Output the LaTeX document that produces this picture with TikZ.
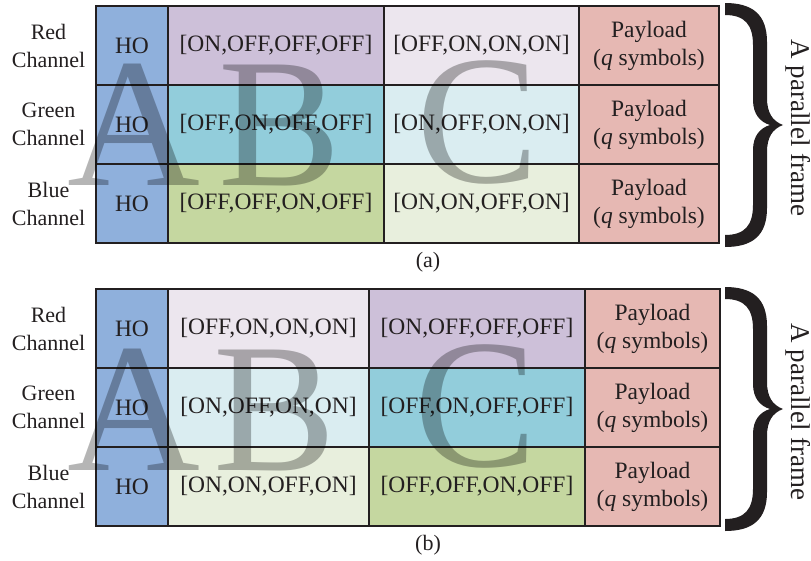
\documentclass[tikz,border=0pt]{standalone}
\usepackage{fontspec}
\setmainfont{Liberation Serif}
\definecolor{ink}{HTML}{231F20}
\definecolor{hoblue}{HTML}{8FB0DC}
\definecolor{purpD}{HTML}{CDC0D9}
\definecolor{purpL}{HTML}{ECE6EE}
\definecolor{tealD}{HTML}{92CDDB}
\definecolor{tealL}{HTML}{DAEDF1}
\definecolor{greenD}{HTML}{C5D7A0}
\definecolor{greenL}{HTML}{E8EFDD}
\definecolor{payred}{HTML}{E6B8B3}
\definecolor{ghost}{HTML}{B5B5B5}
\tikzset{
  cell/.style={draw=ink, line width=2.4pt, text=ink, inner sep=0pt,
    minimum height=79pt, font=\fontsize{23.5}{28}\selectfont, align=center},
  lbl/.style={text=ink, font=\fontsize{22}{28}\selectfont, align=center, inner sep=0pt},
  bigletter/.style={text=ghost, font=\fontsize{184}{184}\selectfont, inner sep=0pt, anchor=base},
  bracefill/.style={fill=ink, draw=none},
}
\newcommand{\payloadtext}{Payload\\(\textit{q} symbols)}
\begin{document}
\begin{tikzpicture}[x=1pt, y=-1pt]
\useasboundingbox (0,0) rectangle (811,560);

% ---------- frame (a) ----------
\node[cell, fill=hoblue, minimum width=72pt]  (aho1) at (132,45.5)  {HO};
\node[cell, fill=hoblue, minimum width=72pt]  (aho2) at (132,124.5) {HO};
\node[cell, fill=hoblue, minimum width=72pt]  (aho3) at (132,203.5) {HO};
\node[cell, fill=purpD,  minimum width=216pt] (ab1)  at (276,45.5)  {[ON,OFF,OFF,OFF]};
\node[cell, fill=tealD,  minimum width=216pt] (ab2)  at (276,124.5) {[OFF,ON,OFF,OFF]};
\node[cell, fill=greenD, minimum width=216pt] (ab3)  at (276,203.5) {[OFF,OFF,ON,OFF]};
\node[cell, fill=purpL,  minimum width=195pt] (ac1)  at (481.5,45.5)  {[OFF,ON,ON,ON]};
\node[cell, fill=tealL,  minimum width=195pt] (ac2)  at (481.5,124.5) {[ON,OFF,ON,ON]};
\node[cell, fill=greenL, minimum width=195pt] (ac3)  at (481.5,203.5) {[ON,ON,OFF,ON]};
\node[cell, fill=payred, minimum width=140pt] (ap1)  at (649,45.5)  {\payloadtext};
\node[cell, fill=payred, minimum width=140pt] (ap2)  at (649,124.5) {\payloadtext};
\node[cell, fill=payred, minimum width=140pt] (ap3)  at (649,203.5) {\payloadtext};

\node[lbl] (ar1) at (48.5,45.5)  {Red\\Channel};
\node[lbl] (ar2) at (48.5,124.5) {Green\\Channel};
\node[lbl] (ar3) at (48.5,203.5) {Blue\\Channel};
\node[lbl] (acap) at (428,262) {(a)};

% ---------- frame (b) ----------
\node[cell, fill=hoblue, minimum width=72pt]  (bho1) at (132,328.5) {HO};
\node[cell, fill=hoblue, minimum width=72pt]  (bho2) at (132,407.5) {HO};
\node[cell, fill=hoblue, minimum width=72pt]  (bho3) at (132,486.5) {HO};
\node[cell, fill=purpL,  minimum width=201pt] (bb1)  at (268.5,328.5) {[OFF,ON,ON,ON]};
\node[cell, fill=tealL,  minimum width=201pt] (bb2)  at (268.5,407.5) {[ON,OFF,ON,ON]};
\node[cell, fill=greenL, minimum width=201pt] (bb3)  at (268.5,486.5) {[ON,ON,OFF,ON]};
\node[cell, fill=purpD,  minimum width=216pt] (bc1)  at (477,328.5) {[ON,OFF,OFF,OFF]};
\node[cell, fill=tealD,  minimum width=216pt] (bc2)  at (477,407.5) {[OFF,ON,OFF,OFF]};
\node[cell, fill=greenD, minimum width=216pt] (bc3)  at (477,486.5) {[OFF,OFF,ON,OFF]};
\node[cell, fill=payred, minimum width=135pt] (bp1)  at (652.5,328.5) {\payloadtext};
\node[cell, fill=payred, minimum width=135pt] (bp2)  at (652.5,407.5) {\payloadtext};
\node[cell, fill=payred, minimum width=135pt] (bp3)  at (652.5,486.5) {\payloadtext};

\node[lbl] (br1) at (48.5,328.5) {Red\\Channel};
\node[lbl] (br2) at (48.5,407.5) {Green\\Channel};
\node[lbl] (br3) at (48.5,486.5) {Blue\\Channel};
\node[lbl] (bcap) at (428,545) {(b)};

% ---------- braces and side labels ----------
\foreach \dy/\nm in {0/a, 284/b} {
  \begin{scope}[shift={(0,\dy)}]
    \fill[bracefill]
      (725,3) .. controls (752,3) and (767,14) .. (767,42)
      -- (767,98)
      .. controls (767,112) and (772,121) .. (783,125)
      .. controls (772,129) and (767,138) .. (767,152)
      -- (767,208)
      .. controls (767,236) and (752,247) .. (725,247)
      -- (725,235)
      .. controls (745,235) and (753,225) .. (753,205)
      -- (753,150)
      .. controls (753,136) and (760,128) .. (770,125)
      .. controls (760,122) and (753,114) .. (753,100)
      -- (753,45)
      .. controls (753,25) and (745,15) .. (725,15)
      -- cycle;
    \node[text=ink, font=\fontsize{27}{27}\selectfont, rotate=-90, inner sep=0pt]
      (\nm frame) at (798,128) {A parallel frame};
  \end{scope}
}

% ---------- translucent group letters ----------
\begin{scope}[blend mode=multiply]
  \node[bigletter] (aA) at (133.5,185) {A};
  \node[bigletter] (aB) at (280,185)   {B};
  \node[bigletter] (aC) at (478,182)   {C};
  \node[bigletter] (bA) at (133.5,470) {A};
  \node[bigletter] (bB) at (275,470)   {B};
  \node[bigletter] (bC) at (476,466)   {C};
\end{scope}
\end{tikzpicture}
\end{document}
